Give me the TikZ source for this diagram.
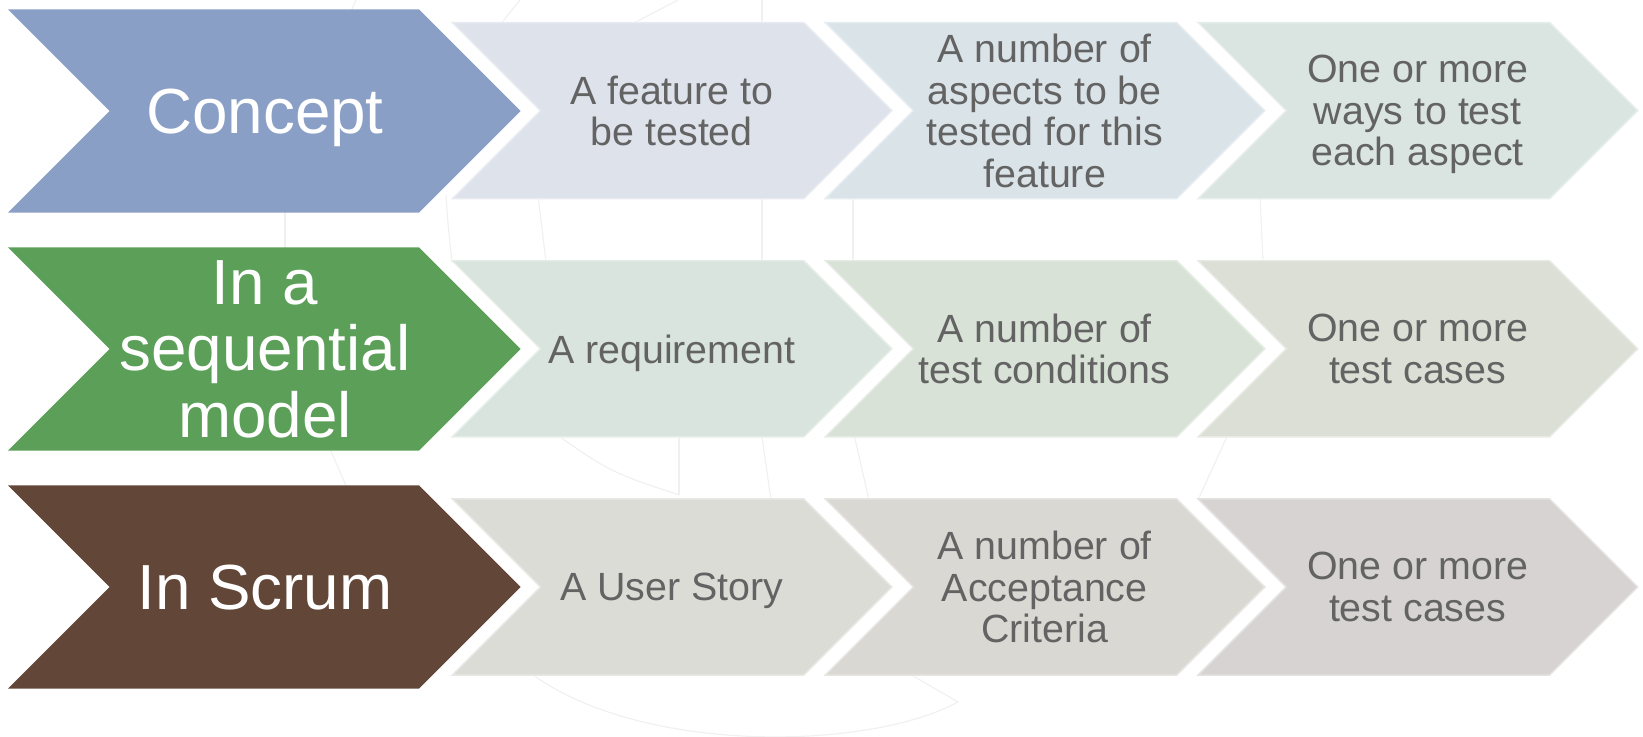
\documentclass[tikz,border=0pt]{standalone}
\usepackage{fontspec}
\setmainfont{Liberation Sans}
\definecolor{cA}{HTML}{8A9FC5}
\definecolor{cB}{HTML}{5B9F59}
\definecolor{cC}{HTML}{624739}
\definecolor{sAA}{HTML}{DDE2EB}
\definecolor{sAB}{HTML}{DAE3E8}
\definecolor{sAC}{HTML}{DAE5E2}
\definecolor{sBA}{HTML}{D8E4DD}
\definecolor{sBB}{HTML}{D8E2D6}
\definecolor{sBC}{HTML}{DCDFD6}
\definecolor{sCA}{HTML}{DBDCD6}
\definecolor{sCB}{HTML}{D9D8D3}
\definecolor{sCC}{HTML}{D6D3D2}
\definecolor{txtgray}{HTML}{636363}
\newcommand\mysmallchev[5]{%
  \pgfmathsetmacro\chT{21.8+238.2*#1}%
  \pgfmathsetmacro\chB{\chT+177.6}%
  \pgfmathsetmacro\chM{\chT+88.8}%
  \pgfmathsetmacro\chL{450.6+372.9*#2}%
  \filldraw[smallchev, fill=#3] (\chL,\chT) -- ({\chL+353.5},\chT) -- ({\chL+442.3},\chM) -- ({\chL+353.5},\chB) -- (\chL,\chB) -- ({\chL+88.8},\chM) -- cycle;
  \node[smalltext] (#4) at ({\chL+221.2},\chM) {#5};
}
\newcommand\mybigchev[4]{%
  \pgfmathsetmacro\chT{9.4+238*#1}%
  \pgfmathsetmacro\chB{\chT+203.3}%
  \pgfmathsetmacro\chM{\chT+101.65}%
  \fill[#2] (8,\chT) -- (419,\chT) -- (520.6,\chM) -- (419,\chB) -- (8,\chB) -- (109.6,\chM) -- cycle;
  \node[bigtext] (#3) at (265,\chM) {#4};
}
\begin{document}
\begin{tikzpicture}[x=1bp,y=-1bp,
  bigtext/.style={text=white, font=\fontsize{64}{66.5}\selectfont, align=center, inner sep=0pt, text depth=0pt},
  smalltext/.style={text=txtgray, font=\fontsize{39.5}{41.7}\selectfont, align=center, inner sep=0pt, text depth=0pt},
  smallchev/.style={draw=white, draw opacity=0.35, line width=3},
  wm/.style={draw=black!6, line width=1.1}]
\useasboundingbox (0,0) rectangle (1643,737);
\fill[white] (0,0) rectangle (1643,737);
% faint watermark fragments
\draw[wm] (356,0) -- (345,25);
\draw[wm] (520,0) -- (500,25);
\draw[wm] (678,0) -- (630,25);
\draw[wm] (762,0) -- (762,25);
\draw[wm] (285,205) -- (285,250);
\draw[wm] (446,195) .. controls (448,225) .. (452,262);
\draw[wm] (538,195) -- (546,262);
\draw[wm] (762,195) -- (762,262);
\draw[wm] (853,195) -- (853,262);
\draw[wm] (1260,195) -- (1263,262);
\draw[wm] (326,440) -- (348,490);
\draw[wm] (550,430) .. controls (610,472) .. (679,495);
\draw[wm] (679,430) -- (679,495);
\draw[wm] (761,430) -- (771,500);
\draw[wm] (853,430) -- (869,500);
\draw[wm] (1230,430) -- (1198,500);
\draw[wm] (505,650) .. controls (600,755) and (860,755) .. (958,702) -- (865,648);
% big chevrons
\mybigchev{0}{cA}{concept}{Concept}
\mybigchev{1}{cB}{seq}{In a\\sequential\\model}
\mybigchev{2}{cC}{scrum}{In Scrum}
% small chevrons
\mysmallchev{0}{0}{sAA}{a1}{A feature to\\be tested}
\mysmallchev{0}{1}{sAB}{a2}{A number of\\aspects to be\\tested for this\\feature}
\mysmallchev{0}{2}{sAC}{a3}{One or more\\ways to test\\each aspect}
\mysmallchev{1}{0}{sBA}{b1}{A requirement}
\mysmallchev{1}{1}{sBB}{b2}{A number of\\test conditions}
\mysmallchev{1}{2}{sBC}{b3}{One or more\\test cases}
\mysmallchev{2}{0}{sCA}{c1}{A User Story}
\mysmallchev{2}{1}{sCB}{c2}{A number of\\Acceptance\\Criteria}
\mysmallchev{2}{2}{sCC}{c3}{One or more\\test cases}
\end{tikzpicture}
\end{document}
